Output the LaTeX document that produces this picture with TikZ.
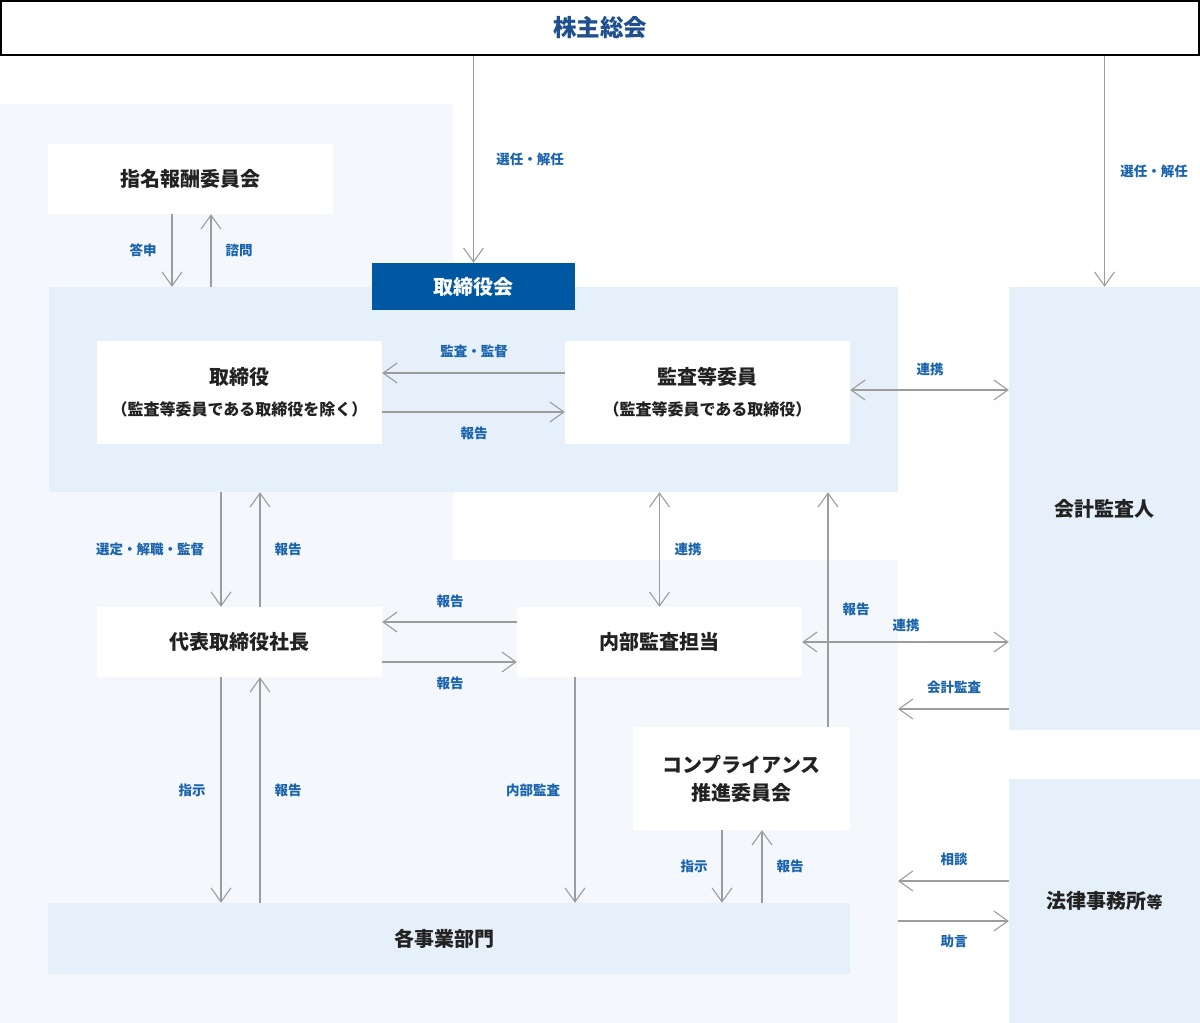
\documentclass[tikz,border=0pt]{standalone}
\usepackage{fontspec}
\newfontfamily\jp{Noto Sans CJK JP}
\usetikzlibrary{arrows.meta}
\definecolor{pale}{HTML}{F4F8FD}
\definecolor{lightblue}{HTML}{E6F0FA}
\definecolor{darkblue}{HTML}{0058A3}
\definecolor{labelblue}{HTML}{1A63AD}
\definecolor{txt}{HTML}{222222}
\definecolor{lineclr}{HTML}{9C9C9C}
\definecolor{titleclr}{HTML}{1F4F8F}
\begin{document}
\begin{tikzpicture}[x=1pt,y=-1pt,
  >={Straight Barb[length=14pt,width=20pt,line width=1.1pt]},
  whitebox/.style={fill=white,inner sep=0pt,text=txt,align=center,
    font=\jp\bfseries\fontsize{20}{31}\selectfont},
  bluebox/.style={whitebox,fill=lightblue},
  lbl/.style={font=\jp\bfseries\fontsize{13.5}{16}\selectfont,text=labelblue,inner sep=1pt},
  arr/.style={draw=lineclr,line width=1.1pt,->},
  darr/.style={draw=lineclr,line width=1.1pt,<->}]
\useasboundingbox (0,0) rectangle (1200,1023);
% pale background
\fill[pale] (0,104) -- (453,104) -- (453,560) -- (898,560) -- (898,1023) -- (0,1023) -- cycle;
% top
\node[draw=black,line width=1.4pt,fill=white,minimum width=1198pt,minimum height=54pt,inner sep=0pt,
  text=titleclr,font=\jp\bfseries\fontsize{23.5}{28}\selectfont] (soukai) at (600,28) {株主総会};
% nomination committee
\node[whitebox,minimum width=285pt,minimum height=70pt] (nom) at (190.5,179) {指名報酬委員会};
% board region
\node[fill=lightblue,minimum width=849pt,minimum height=205pt,inner sep=0pt] (board) at (473.5,389.5) {};
\node[fill=darkblue,minimum width=203pt,minimum height=47pt,inner sep=0pt,text=white,
  font=\jp\bfseries\fontsize{20}{24}\selectfont] (boardlbl) at (473.5,286.5) {取締役会};
\node[whitebox,minimum width=285pt,minimum height=103pt] (dir) at (239.5,392.5)
  {取締役\\{\fontsize{16}{31}\selectfont （監査等委員である取締役を除く）}};
\node[whitebox,minimum width=285pt,minimum height=103pt] (aud) at (707.5,392.5)
  {監査等委員\\{\fontsize{16}{31}\selectfont （監査等委員である取締役）}};
% right side
\node[bluebox,minimum width=191pt,minimum height=443pt] (kaikei) at (1104.5,508.5) {};
\node[text=txt,font=\jp\bfseries\fontsize{20}{24}\selectfont,inner sep=0pt] (kaikeit) at (1104.5,509) {会計監査人};
\node[bluebox,minimum width=191pt,minimum height=244pt] (law) at (1104.5,901) {};
\node[text=txt,font=\jp\bfseries\fontsize{20}{24}\selectfont,inner sep=0pt] (lawt) at (1104.5,901)
  {法律事務所{\fontsize{16}{20}\selectfont 等}};
% middle
\node[whitebox,minimum width=285pt,minimum height=70pt] (ceo) at (239.5,642) {代表取締役社長};
\node[whitebox,minimum width=285pt,minimum height=70pt] (ia) at (659.5,642) {内部監査担当};
\node[whitebox,font=\jp\bfseries\fontsize{20}{28}\selectfont,minimum width=217pt,minimum height=103pt] (comp) at (741.5,778.5)
  {コンプライアンス\\推進委員会};
\node[bluebox,minimum width=802pt,minimum height=71pt] (dept) at (449,938.5) {};
\node[text=txt,font=\jp\bfseries\fontsize{20}{24}\selectfont,inner sep=0pt] (deptt) at (444,938.5) {各事業部門};
% arrows from top
\draw[arr] (soukai.south -| boardlbl.north) -- (boardlbl.north);
\node[lbl] (l1) at (530,159) {選任・解任};
\draw[arr] (soukai.south -| kaikei.north) -- (kaikei.north);
\node[lbl] (l2) at (1154,171) {選任・解任};
% nomination
\draw[arr] ([xshift=-18.5pt]nom.south) -- ([xshift=-18.5pt]nom.south |- board.north);
\draw[arr] ([xshift=20.5pt]nom.south |- board.north) -- ([xshift=20.5pt]nom.south);
\node[lbl] (l3) at (143,250) {答申};
\node[lbl] (l4) at (239,250) {諮問};
% directors <-> audit committee
\draw[arr] ([yshift=19.5pt]aud.west) -- ([yshift=19.5pt]aud.west -| dir.east);
\draw[arr] ([yshift=-19.5pt]dir.east) -- ([yshift=-19.5pt]dir.east -| aud.west);
\node[lbl] (l5) at (474,351) {監査・監督};
\node[lbl] (l6) at (474,433) {報告};
\draw[darr] ([yshift=2.5pt]aud.east) -- ([yshift=2.5pt]aud.east -| kaikei.west);
\node[lbl] (l7) at (930,369) {連携};
% board <-> CEO
\draw[arr] ([xshift=-18.5pt]ceo.north |- board.south) -- ([xshift=-18.5pt]ceo.north);
\draw[arr] ([xshift=20.5pt]ceo.north) -- ([xshift=20.5pt]ceo.north |- board.south);
\node[lbl] (l8) at (150,549) {選定・解職・監督};
\node[lbl] (l9) at (288,549) {報告};
% board <-> internal audit
\draw[darr] (ia.north |- board.south) -- (ia.north);
\node[lbl] (l10) at (688,549) {連携};
% compliance -> board
\draw[arr] ([xshift=86.5pt]comp.north) -- ([xshift=86.5pt]comp.north |- board.south);
\node[lbl] (l11) at (856,609) {報告};
% CEO <-> internal audit
\draw[arr] ([yshift=20pt]ia.west) -- ([yshift=20pt]ia.west -| ceo.east);
\draw[arr] ([yshift=-20pt]ceo.east) -- ([yshift=-20pt]ceo.east -| ia.west);
\node[lbl] (l12) at (450,601) {報告};
\node[lbl] (l13) at (450,683) {報告};
% internal audit <-> accounting auditor
\draw[darr] (ia.east) -- (ia.east -| kaikei.west);
\node[lbl] (l14) at (906,625) {連携};
\coordinate (ka) at (898,709);
\draw[arr] (ka -| kaikei.west) -- (ka);
\node[lbl] (l15) at (954,687) {会計監査};
% CEO <-> departments
\draw[arr] ([xshift=-18.5pt]ceo.south) -- ([xshift=-18.5pt]ceo.south |- dept.north);
\draw[arr] ([xshift=20.5pt]ceo.south |- dept.north) -- ([xshift=20.5pt]ceo.south);
\node[lbl] (l16) at (192,790) {指示};
\node[lbl] (l17) at (288,790) {報告};
% internal audit -> departments
\draw[arr] ([xshift=-84.5pt]ia.south) -- ([xshift=-84.5pt]ia.south |- dept.north);
\node[lbl] (l18) at (533,790) {内部監査};
% compliance <-> departments
\draw[arr] ([xshift=-19.5pt]comp.south) -- ([xshift=-19.5pt]comp.south |- dept.north);
\draw[arr] ([xshift=20.5pt]comp.south |- dept.north) -- ([xshift=20.5pt]comp.south);
\node[lbl] (l19) at (694,866) {指示};
\node[lbl] (l20) at (790,866) {報告};
% law firm
\coordinate (sd) at (898,881);
\coordinate (jg) at (898,921);
\draw[arr] (sd -| law.west) -- (sd);
\draw[arr] (jg) -- (jg -| law.west);
\node[lbl] (l21) at (954,859) {相談};
\node[lbl] (l22) at (954,941) {助言};
\end{tikzpicture}
\end{document}
